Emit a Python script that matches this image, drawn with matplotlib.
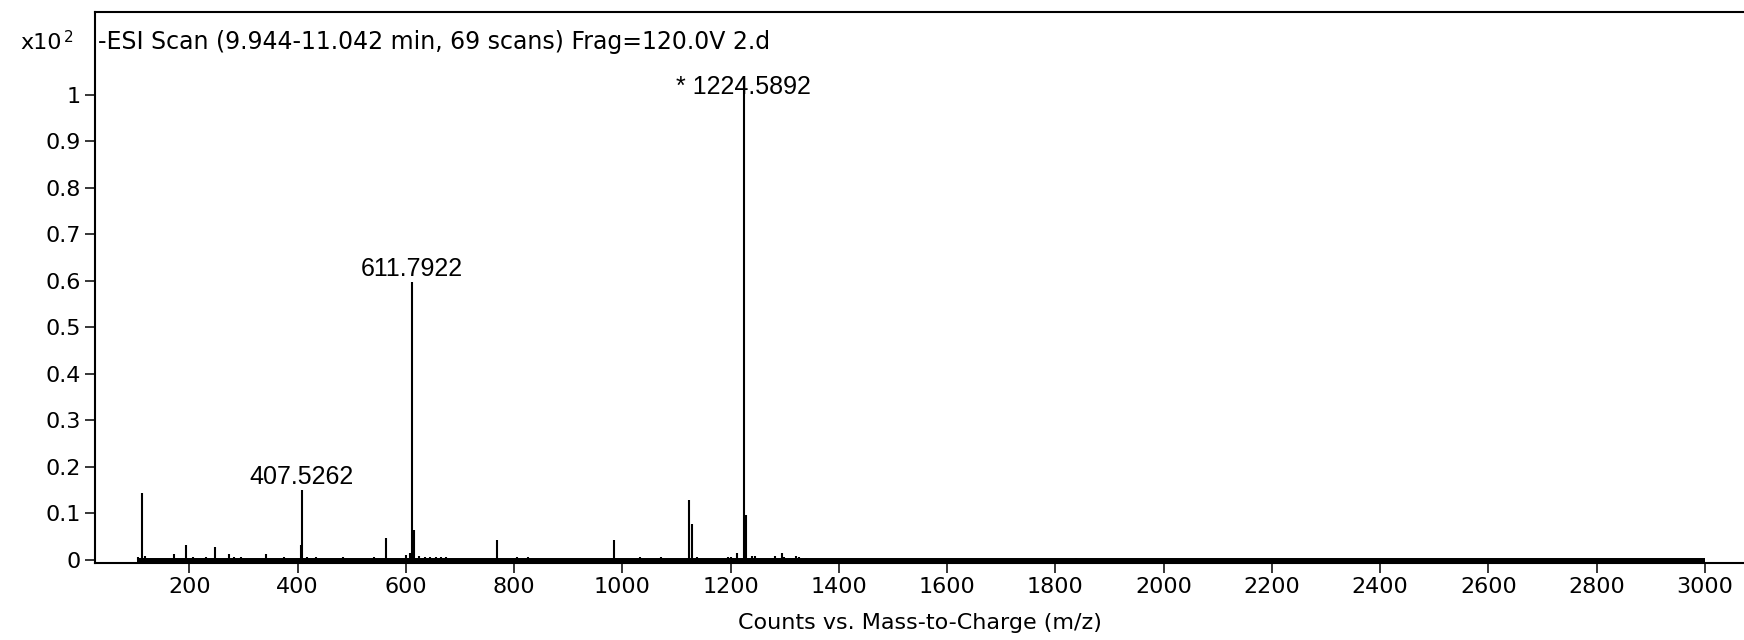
import matplotlib
matplotlib.use("Agg")
import matplotlib.pyplot as plt
from matplotlib.ticker import FuncFormatter, MultipleLocator

# spectrum sticks: m/z and abundance (x10^2 counts)
peak_mz = [
    105, 113, 119, 172, 194, 207, 230, 247, 273, 282, 295, 342, 375,
    405.5, 407.5262, 418, 435, 484, 541, 563, 600, 607, 611.7922, 615.5,
    625, 635, 645, 655, 665, 675, 769, 805, 826, 984, 1033, 1072,
    1124, 1128.5, 1138, 1196, 1200, 1212, 1224.5892, 1228, 1240, 1246,
    1283, 1295, 1298, 1321, 1326, 1340, 1839,
]
peak_height = [
    0.007, 0.145, 0.008, 0.013, 0.032, 0.007, 0.007, 0.027, 0.013, 0.007, 0.006, 0.012, 0.007,
    0.032, 0.150, 0.007, 0.006, 0.006, 0.007, 0.048, 0.011, 0.015, 0.597, 0.064,
    0.008, 0.007, 0.007, 0.007, 0.007, 0.006, 0.043, 0.006, 0.006, 0.043, 0.006, 0.006,
    0.129, 0.077, 0.006, 0.007, 0.007, 0.016, 1.03, 0.097, 0.009, 0.009,
    0.009, 0.015, 0.007, 0.009, 0.006, 0.005, 0.005,
]

# labelled peaks
label_mz = [407.5262, 611.7922, 1224.5892]
label_text = ["407.5262", "611.7922", "* 1224.5892"]
label_height = [0.150, 0.597, 1.03]

# noise floor of the scan
noise_range = [103, 3000]

y_ticks = [0, 0.1, 0.2, 0.3, 0.4, 0.5, 0.6, 0.7, 0.8, 0.9, 1]

title = "-ESI Scan (9.944-11.042 min, 69 scans) Frag=120.0V 2.d"
xlabel = "Counts vs. Mass-to-Charge (m/z)"

W, H = 1744, 640
fig = plt.figure(figsize=(W / 100, H / 100), dpi=100)
ax = fig.add_axes([95 / W, 77 / H, 1 - 95 / W, (563 - 11.7) / H])

ax.set_xlim(25.8, 3072.4)
ax.set_ylim(-0.0064, 1.178)

ax.plot(noise_range, [-0.002, -0.002], color="black", lw=4.3, solid_capstyle="butt")
ax.vlines(peak_mz, 0, peak_height, color="black", lw=1.5)

for mz, h, txt in zip(label_mz, label_height, label_text):
    dy = -13 if h > 1 else 1
    ax.annotate(txt, xy=(mz, h), xytext=(0, dy), textcoords="offset points",
                ha="center", va="bottom", fontfamily="Liberation Sans", fontsize=18)

for side in ["left", "top", "bottom"]:
    ax.spines[side].set_linewidth(1.5)
ax.spines["right"].set_visible(False)

ax.xaxis.set_major_locator(MultipleLocator(200))
ax.set_yticks(y_ticks)
ax.yaxis.set_major_formatter(FuncFormatter(lambda v, p: f"{v:g}"))
ax.tick_params(direction="out", length=7, width=1.1, pad=3, labelsize=16)

fig.text(98 / W, 1 - 49 / H, title, fontsize=17, va="baseline", ha="left")
fig.text(20 / W, 1 - 49 / H, "x10", fontsize=16, va="baseline", ha="left")
fig.text(64 / W, 1 - 42 / H, "2", fontsize=11, va="baseline", ha="left")
fig.text((95 + W) / 2 / W, 1 - 623 / H, xlabel, fontsize=16, va="center", ha="center")

fig.savefig("out.png", dpi=100)
